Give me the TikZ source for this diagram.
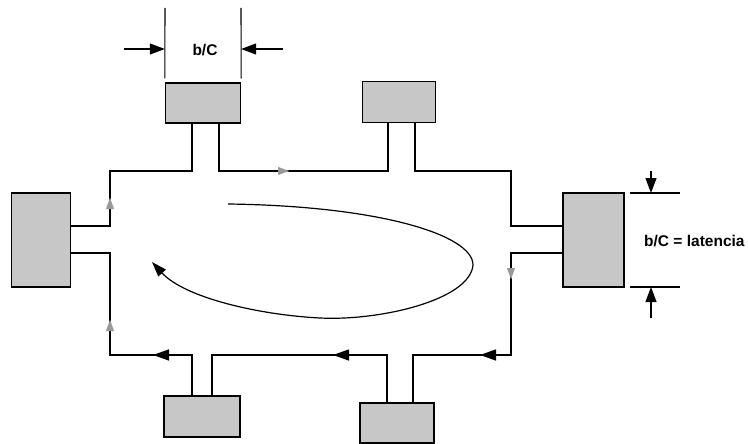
\documentclass[tikz,border=0pt]{standalone}
\usepackage{fontspec}
\setmainfont{Liberation Sans}
\usetikzlibrary{arrows.meta}
\begin{document}
\begin{tikzpicture}[x=1pt,y=-1pt,
  memo/.style={draw=black,line width=1.4pt,fill=black!22,inner sep=0pt,minimum width=#1},
  ring/.style={line width=1.3pt,black},
  dim/.style={line width=1.1pt,black},
  lab/.style={font=\bfseries\fontsize{15.5}{18}\selectfont,inner sep=0pt},
  flow/.style={-{Triangle[length=16pt,width=11pt]},line width=1.3pt},
  faint/.style={-{Triangle[length=11pt,width=8pt]},draw=black!40,line width=0.1pt,fill=black!40},
  dimarr/.style={-{Triangle[length=15pt,width=11pt]},line width=1.2pt}]
\useasboundingbox (0,0) rectangle (748,444);
% boxes
\node[memo=75pt,minimum height=40pt] (tl) at (203,103) {};
\node[memo=73pt,minimum height=41pt] (tr) at (399,102) {};
\node[memo=59pt,minimum height=94pt] (l) at (41,240) {};
\node[memo=61pt,minimum height=94pt] (r) at (593.5,240) {};
\node[memo=76pt,minimum height=41pt] (bl) at (202,416.5) {};
\node[memo=74pt,minimum height=40pt] (br) at (397,423) {};
% ring
\draw[ring] (l.east |- 0,226) -- (110,226) -- (110,171) -- (192,171) -- (192,0 |- tl.south);
\draw[ring] (219,0 |- tl.south) -- (219,171) -- (388,171) -- (388,0 |- tr.south);
\draw[ring] (415,0 |- tr.south) -- (415,171) -- (511,171) -- (511,226) -- (r.west |- 0,226);
\draw[ring] (r.west |- 0,253) -- (511,253) -- (511,355) -- (413,355) -- (413,0 |- br.north);
\draw[ring] (387,0 |- br.north) -- (387,355) -- (212,355) -- (212,0 |- bl.north);
\draw[ring] (192,0 |- bl.north) -- (192,355) -- (110,355) -- (110,253) -- (l.east |- 0,253);
% flow arrows on bottom line
\coordinate (a1) at (153,355); \coordinate (a2) at (333,355); \coordinate (a3) at (480,355);
\draw[flow] ([xshift=17pt]a1) -- (a1);
\draw[flow] ([xshift=17pt]a2) -- (a2);
\draw[flow] ([xshift=17pt]a3) -- (a3);
% faint marks
\coordinate (f1) at (110,198); \coordinate (f2) at (110,320); \coordinate (f3) at (289,171); \coordinate (f4) at (511,279);
\draw[faint] ([yshift=-1pt]f1) -- (f1);
\draw[faint] ([yshift=-1pt]f2) -- (f2);
\draw[faint] ([xshift=-1pt]f3) -- (f3);
\draw[faint] ([yshift=1pt]f4) -- (f4);
% loop
\coordinate (c0) at (228,204); \coordinate (c1) at (473,265); \coordinate (c2) at (320,318); \coordinate (c3) at (152,262);
\draw[line width=1.2pt,-{Triangle[length=15pt,width=10pt]}] (c0) .. controls (380,206) and (473,235) .. (c1)
  .. controls (470,300) and (380,321) .. (c2) .. controls (260,315) and (185,298) .. (c3);
% dimension b/C top
\coordinate (d1t) at (165,8); \coordinate (d2t) at (241,8);
\draw[dim] (d1t) -- ([yshift=4pt]tl.north west);
\draw[dim] (d2t) -- ([yshift=4pt]tl.north east);
\coordinate (h1) at (124,49); \coordinate (h2) at (283,49);
\draw[dimarr] (h1) -- (h1 -| tl.west);
\draw[dimarr] (h2) -- (h2 -| tl.east);
\node[lab] (t1) at (205,50) {b/C};
% dimension right
\coordinate (v1) at (630,193); \coordinate (v2) at (680,193);
\coordinate (v3) at (630,287); \coordinate (v4) at (680,287);
\draw[dim] (v1) -- (v2);
\draw[dim] (v3) -- (v4);
\coordinate (g1) at (651,171); \coordinate (g2) at (651,318);
\draw[dimarr] (g1) -- (g1 |- v1);
\draw[dimarr] (g2) -- (g2 |- v3);
\node[lab,anchor=west] (t2) at (644,241) {b/C = latencia};
\end{tikzpicture}
\end{document}
